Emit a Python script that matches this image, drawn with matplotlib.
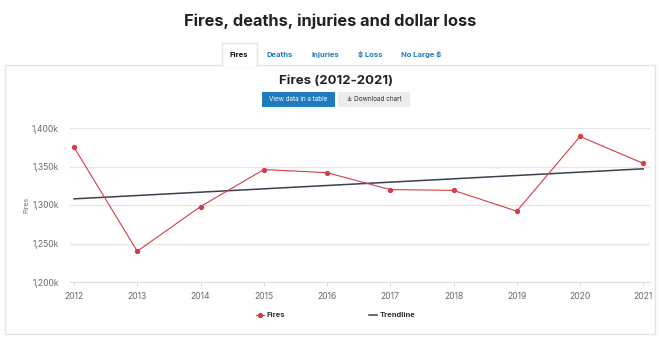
import matplotlib
matplotlib.use("Agg")
import matplotlib.pyplot as plt
from matplotlib.patches import Rectangle
from matplotlib.lines import Line2D
from matplotlib.ticker import FuncFormatter

# data (thousands of fires)
years = [2012, 2013, 2014, 2015, 2016, 2017, 2018, 2019, 2020, 2021]
fires = [1375, 1240, 1298, 1346, 1342, 1320, 1319, 1292, 1389, 1354]
trend_years = [2012, 2021]
trend_vals = [1308, 1347]
y_ticks = [1200, 1250, 1300, 1350, 1400]
tabs = ["Fires", "Deaths", "Injuries", "$ Loss", "No Large $"]

W, H = 659, 337
RED = "#d63c45"
TREND = "#3b4051"
BLUE = "#1f7bbd"
GREY = "#6b6b6b"

plt.rcParams['font.family'] = ['Inter', 'DejaVu Sans']

fig = plt.figure(figsize=(W / 100, H / 100), dpi=100)
fig.patch.set_facecolor("white")

def px(x, y):
    # pixel coords (top-left origin) -> figure fraction
    return x / W, 1 - y / H

# panel box
x0, y0 = px(5, 334)
x1, y1 = px(655, 65)
fig.patches.append(Rectangle((x0, y0), x1 - x0, y1 - y0, transform=fig.transFigure,
                             facecolor="white", edgecolor="#e4e4e4", lw=1.0, zorder=-2))

# active tab
tx0, ty0 = px(222, 66)
tx1, ty1 = px(257, 43)
fig.patches.append(Rectangle((tx0, ty0), tx1 - tx0, ty1 - ty0, transform=fig.transFigure,
                             facecolor="white", edgecolor="#e4e4e4", lw=1.0, zorder=-1))
fig.patches.append(Rectangle((tx0 + 0.001, ty0 - 0.004), tx1 - tx0 - 0.002, 0.008,
                             transform=fig.transFigure, facecolor="white",
                             edgecolor="none", zorder=-1))

fig.text(*px(330, 21), "Fires, deaths, injuries and dollar loss", ha="center", va="center",
         fontsize=11.8, fontweight="bold", color="#222222")

tab_x = [239, 280, 325, 370, 421]
for i in range(len(tabs)):
    fig.text(*px(tab_x[i], 55), tabs[i], ha="center", va="center", fontsize=5.5,
             fontweight="bold", color="#111111" if i == 0 else BLUE, zorder=3)

fig.text(*px(336, 81), "Fires (2012-2021)", ha="center", va="center",
         fontsize=9.5, fontweight="bold", color="#222222")

# buttons
bx0, by0 = px(262, 107)
bx1, by1 = px(335, 92)
fig.patches.append(Rectangle((bx0, by0), bx1 - bx0, by1 - by0, transform=fig.transFigure,
                             facecolor=BLUE, edgecolor="none"))
fig.text((bx0 + bx1) / 2, (by0 + by1) / 2, "View data in a table", ha="center", va="center",
         fontsize=4.6, color="white")
gx0, gy0 = px(338, 107)
gx1, gy1 = px(410, 92)
fig.patches.append(Rectangle((gx0, gy0), gx1 - gx0, gy1 - gy0, transform=fig.transFigure,
                             facecolor="#ececec", edgecolor="none"))
fig.text((gx0 + gx1) / 2, (gy0 + gy1) / 2, "\u2913 Download chart", ha="center", va="center",
         fontsize=4.6, color="#333333")

# chart axes
ax = fig.add_axes([70 / W, 1 - 282 / H, 580 / W, 154 / H])
ax.set_zorder(5)
ax.patch.set_alpha(0)
ax.plot(trend_years, trend_vals, color=TREND, lw=1.1, zorder=3, label="Trendline")
ax.plot(years, fires, color=RED, lw=0.8, marker="o", ms=2.8, zorder=4, clip_on=False, label="Fires")

ax.set_xlim(2012 - 4 / 63.2, 2021 + 6.7 / 63.2)
ax.set_ylim(1200, 1400)
ax.set_yticks(y_ticks)
ax.set_xticks(years)
ax.yaxis.set_major_formatter(FuncFormatter(lambda v, p: "{:,.0f}k".format(v)))
ax.grid(axis="y", color="#e6e6e6", lw=0.9)
ax.set_axisbelow(True)
for s in ["top", "right", "left"]:
    ax.spines[s].set_visible(False)
ax.spines["bottom"].set_color("#dddddd")
ax.tick_params(axis="y", length=0, labelsize=6.2, labelcolor=GREY, pad=8)
ax.tick_params(axis="x", length=3, color="#dddddd", labelsize=6.2, labelcolor=GREY, pad=4)
ax.set_ylabel("Fires", fontsize=5, color=GREY, labelpad=2)

handles = [Line2D([], [], color=RED, lw=0.8, marker="o", ms=2.8),
           Line2D([], [], color=TREND, lw=1.1)]
fig.legend(handles, ["Fires", "Trendline"], loc="center", bbox_to_anchor=px(336, 315),
           ncol=2, frameon=False, fontsize=5.5, columnspacing=11, handlelength=1.0,
           handletextpad=0.4)
for t in fig.legends[0].get_texts():
    t.set_fontweight("bold")
    t.set_color("#333333")

fig.savefig("out.png", dpi=100, facecolor="white")
